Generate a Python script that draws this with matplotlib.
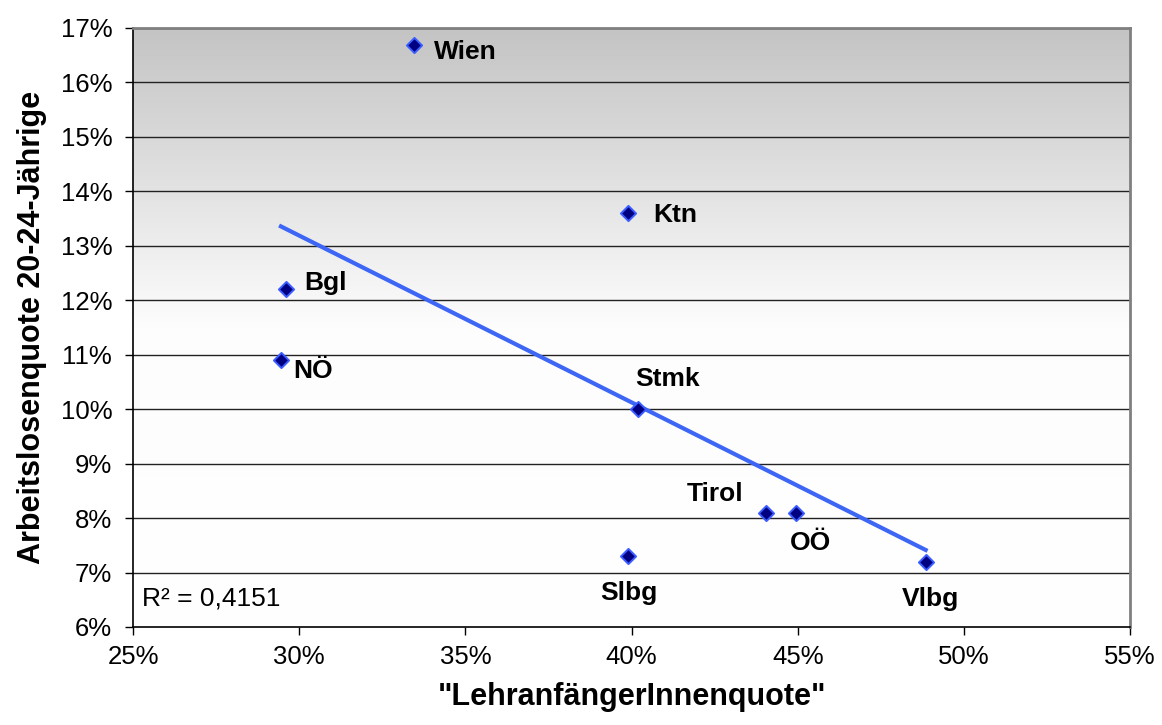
import numpy as np
import matplotlib
matplotlib.use('Agg')
from matplotlib import pyplot as plt
from matplotlib.ticker import FuncFormatter

plt.rcParams['font.family'] = ['Liberation Sans', 'DejaVu Sans']

# data
regions = ['Wien', 'Ktn', 'Bgl', 'NÖ', 'Stmk', 'Tirol', 'OÖ', 'Slbg', 'Vlbg']
lehr = [33.45, 39.9, 29.6, 29.45, 40.2, 44.05, 44.95, 39.9, 48.85]
alq = [16.68, 13.6, 12.2, 10.9, 10.0, 8.1, 8.1, 7.3, 7.2]
r2_text = 'R² = 0,4151'
x_ticks = [25, 30, 35, 40, 45, 50, 55]
y_ticks = list(range(6, 18))

# label offsets in pixels (dx, dy, ha)
offsets = {
    'Wien': (20, -7, 'left'), 'Ktn': (25, -2, 'left'), 'Bgl': (18, 6, 'left'),
    'NÖ': (12, -11, 'left'), 'Stmk': (-3, 30, 'left'), 'Tirol': (-23, 19, 'right'),
    'OÖ': (14, -30, 'center'), 'Slbg': (1, -37, 'center'), 'Vlbg': (5, -37, 'center'),
}

fig = plt.figure(figsize=(11.62, 7.25), dpi=100)
ax = fig.add_axes([0.1145, 0.1352, 0.858, 0.8262])
ax.set_xlim(25, 55)
ax.set_ylim(6, 17)

# gray to white gradient background
grad = np.linspace(0, 1, 256).reshape(-1, 1)
cmap = matplotlib.colors.LinearSegmentedColormap.from_list('bg', ['#ffffff', '#fdfdfd', '#c4c4c4'])
ax.imshow(grad, extent=[25, 55, 6, 17], origin='lower', aspect='auto', cmap=cmap, zorder=0)

for yv in y_ticks[1:]:
    ax.axhline(yv, color='#222222', lw=1, zorder=1)

# trend line
k, d = np.polyfit(lehr, alq, 1)
xs = np.array([min(lehr), max(lehr)])
ax.plot(xs, k * xs + d, color='#3d66f5', lw=3, zorder=2)

ax.scatter(lehr, alq, marker='D', s=60, facecolor='#000080', edgecolor='#3b5cff', linewidth=1.4, zorder=3)

for name, xv, yv in zip(regions, lehr, alq):
    dx, dy, ha = offsets[name]
    ax.annotate(name, (xv, yv), xytext=(dx, dy), textcoords='offset pixels',
                ha=ha, va='center', fontsize=19, fontweight='bold', zorder=4)

ax.text(0.009, 0.047, r2_text, transform=ax.transAxes, fontsize=19, va='center')

ax.set_xticks(x_ticks)
ax.set_yticks(y_ticks)
ax.xaxis.set_major_formatter(FuncFormatter(lambda v, p: '%d%%' % v))
ax.yaxis.set_major_formatter(FuncFormatter(lambda v, p: '%d%%' % v))
ax.tick_params(axis='both', direction='out', length=6, width=1, labelsize=18.5, color='black')
ax.tick_params(axis='x', pad=7)
ax.tick_params(axis='y', pad=9)

for s in ['left', 'bottom']:
    ax.spines[s].set_color('black')
    ax.spines[s].set_linewidth(1.2)
for s in ['right', 'top']:
    ax.spines[s].set_color('#808080')
    ax.spines[s].set_linewidth(2)

ax.set_xlabel('"LehranfängerInnenquote"', fontsize=22, fontweight='bold', labelpad=9)
ax.set_ylabel('Arbeitslosenquote 20-24-Jährige', fontsize=22, fontweight='bold', labelpad=10)

fig.savefig('out.png', dpi=100)
